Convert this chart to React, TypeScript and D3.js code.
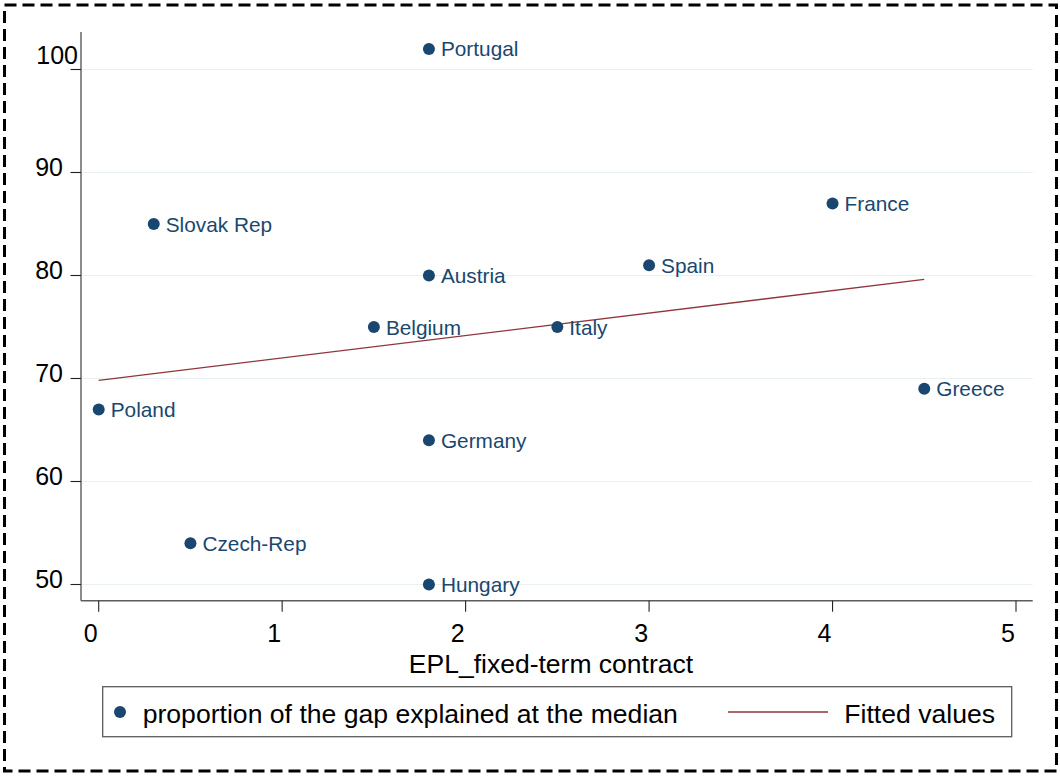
import React from "react";
import * as d3 from "d3";

// Country observations: EPL for fixed-term contracts vs. share of gap explained
const countries = ["Portugal", "Slovak Rep", "France", "Spain", "Austria", "Belgium", "Italy", "Greece", "Poland", "Germany", "Czech-Rep", "Hungary"];
const eplFixedTerm = [1.8, 0.3, 4.0, 3.0, 1.8, 1.5, 2.5, 4.5, 0.0, 1.8, 0.5, 1.8];
const gapExplained = [102, 85, 87, 81, 80, 75, 75, 69, 67, 64, 54, 50];

const xTicks = [0, 1, 2, 3, 4, 5];
const yTicks = [50, 60, 70, 80, 90, 100];

const xTitle = "EPL_fixed-term contract";
const legendScatter = "proportion of the gap explained at the median";
const legendFit = "Fitted values";

const W = 1060;
const H = 776;
const FONT = "'Liberation Sans', Arial, Helvetica, sans-serif";
const NAVY = "#1a476f";
const MAROON = "#90353b";
const AXIS = "#5c5c5c";
const GRID = "#e8f0f1";

export default function App() {
  const x = d3.scaleLinear().domain([0, 5]).range([98.7, 1016]);
  const y = d3.scaleLinear().domain([50, 100]).range([584.5, 69.5]);

  const plotLeft = 81;
  const plotRight = 1032.7;
  const plotTop = 32;
  const plotBottom = 600.7;

  // Ordinary least squares fit of gap explained on EPL
  const mx = d3.mean(eplFixedTerm) as number;
  const my = d3.mean(gapExplained) as number;
  const sxy = d3.sum(eplFixedTerm.map((v, i) => (v - mx) * (gapExplained[i] - my)));
  const sxx = d3.sum(eplFixedTerm.map((v) => (v - mx) * (v - mx)));
  const slope = sxy / sxx;
  const intercept = my - slope * mx;
  const [xMin, xMax] = d3.extent(eplFixedTerm) as [number, number];
  const fitPts: [number, number][] = [xMin, xMax].map((v) => [v, intercept + slope * v]);
  const fitLine = d3
    .line<[number, number]>()
    .x((d) => x(d[0]))
    .y((d) => y(d[1]))(fitPts) as string;

  return (
    <svg
      width={W}
      height={H}
      viewBox={`0 0 ${W} ${H}`}
      style={{ position: "absolute", left: 0, top: 0, background: "#fff" }}
      fontFamily={FONT}
    >
      <rect x={0} y={0} width={W} height={H} fill="#fff" />
      {/* dashed outer frame */}
      <rect
        x={4.5}
        y={5}
        width={1052}
        height={766}
        fill="none"
        stroke="#000"
        strokeWidth={3}
        strokeDasharray="12 6"
      />

      {/* horizontal gridlines */}
      {yTicks.map((t) => (
        <line key={`g${t}`} x1={plotLeft} x2={plotRight} y1={y(t)} y2={y(t)} stroke={GRID} strokeWidth={1} />
      ))}

      {/* axes */}
      <line x1={plotLeft} x2={plotLeft} y1={plotTop} y2={plotBottom} stroke={AXIS} strokeWidth={1.4} />
      <line x1={plotLeft} x2={plotRight} y1={plotBottom} y2={plotBottom} stroke={AXIS} strokeWidth={1.4} />

      {yTicks.map((t) => (
        <g key={`y${t}`}>
          <line x1={plotLeft - 10.5} x2={plotLeft} y1={y(t)} y2={y(t)} stroke="#222" strokeWidth={1.1} />
          <text
            x={t === 100 ? 78 : 63}
            y={t === 100 ? y(t) - 6 : y(t) + 3}
            textAnchor="end"
            fontSize={25}
            fill="#000"
          >
            {t}
          </text>
        </g>
      ))}

      {xTicks.map((t) => (
        <g key={`x${t}`}>
          <line x1={x(t)} x2={x(t)} y1={plotBottom} y2={plotBottom + 11} stroke="#222" strokeWidth={1.1} />
          <text x={x(t) - 8} y={641.5} textAnchor="middle" fontSize={25} fill="#000">
            {t}
          </text>
        </g>
      ))}

      <text x={551} y={672.5} textAnchor="middle" fontSize={26.5} fill="#000">
        {xTitle}
      </text>

      {/* fitted regression line */}
      <path d={fitLine} fill="none" stroke={MAROON} strokeWidth={1.3} />

      {/* labelled scatter points */}
      {countries.map((c, i) => (
        <g key={c}>
          <circle cx={x(eplFixedTerm[i])} cy={y(gapExplained[i])} r={6} fill={NAVY} />
          <text
            x={x(eplFixedTerm[i]) + 12}
            y={y(gapExplained[i]) + 7.5}
            fontSize={20.8}
            fill={NAVY}
          >
            {c}
          </text>
        </g>
      ))}

      {/* legend */}
      <rect x={102.7} y={686.7} width={909} height={50} fill="#fff" stroke={AXIS} strokeWidth={1.3} />
      <circle cx={120} cy={712} r={6} fill={NAVY} />
      <text x={142.7} y={723} fontSize={26.6} fill="#000">
        {legendScatter}
      </text>
      <line x1={728} x2={828} y1={712} y2={712} stroke={MAROON} strokeWidth={1.3} />
      <text x={844.3} y={723} fontSize={26.6} fill="#000">
        {legendFit}
      </text>
    </svg>
  );
}
